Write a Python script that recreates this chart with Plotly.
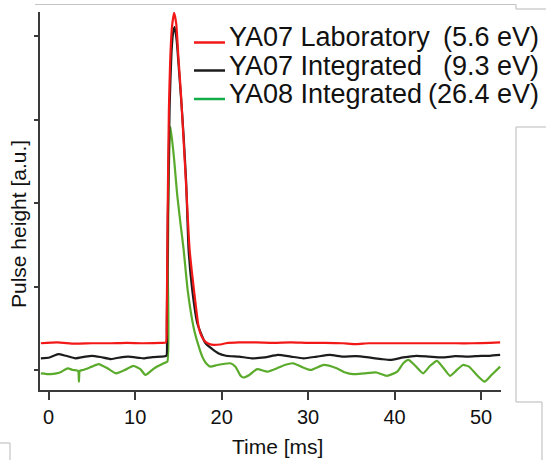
import plotly.graph_objects as go

# ---------------- data ----------------
red_x = [-0.9, 1, 3, 5, 7, 9, 11, 13, 13.55,
         13.65, 13.75, 13.9, 14.05, 14.25, 14.5, 14.75, 15.0, 15.3, 15.55, 15.9, 16.3, 16.8, 17.35, 17.7, 18.1, 18.6, 19.1, 19.8,
         20.5, 22, 24, 26, 28, 30, 32, 34, 35.5, 37, 39, 41, 43, 45, 47, 49, 51, 52.2]
red_y = [0.32, 0.33, 0.315, 0.32, 0.32, 0.325, 0.32, 0.325, 0.33,
         0.6, 1.8, 3.1, 3.7, 4.1, 4.28, 4.15, 3.75, 3.3, 2.85, 2.2, 1.44, 0.96, 0.51, 0.4, 0.34, 0.31, 0.30, 0.305,
         0.32, 0.33, 0.33, 0.325, 0.33, 0.325, 0.325, 0.32, 0.31, 0.32, 0.32, 0.32, 0.32, 0.32, 0.32, 0.32, 0.325, 0.33]

black_x = [-0.9, 0.1, 1.1, 2, 3.1, 4.2, 5, 6, 7.2, 8.5, 9.2, 10.5, 11, 12, 13, 13.6,
           13.66, 13.78, 13.99, 14.2, 14.4, 14.57, 14.8, 15.1, 15.37, 15.6, 15.9, 16.18, 16.6, 17.19, 18.14, 19.6,
           20.5, 22, 23.5, 25, 26.5, 28, 29.5, 31, 32.5, 34, 35.5, 37, 38.5, 39.5, 41, 42.5, 44, 45.5, 47, 48.5, 50, 51, 52.2]
black_y = [0.14, 0.15, 0.19, 0.17, 0.14, 0.16, 0.17, 0.155, 0.13, 0.155, 0.16, 0.145, 0.14, 0.155, 0.16, 0.17,
           0.5, 1.8, 3.17, 3.8, 4.05, 4.11, 3.95, 3.55, 3.17, 2.81, 2.25, 1.44, 0.96, 0.56, 0.32, 0.2,
           0.17, 0.16, 0.14, 0.15, 0.18, 0.16, 0.14, 0.16, 0.18, 0.16, 0.165, 0.15, 0.13, 0.12, 0.15, 0.17, 0.16, 0.15, 0.165, 0.16, 0.17, 0.17, 0.18]

green_x = [-0.9, 0.2, 0.9, 1.5, 2.2, 2.8, 3.4, 3.5, 3.6, 4.0, 5.0, 5.8, 6.8, 7.8, 8.8, 9.8, 10.6, 11.2, 12.2, 13.3, 13.72,
           13.78, 13.9, 14.05, 14.1, 14.51, 14.86, 15.26, 15.61, 16.07, 16.76, 17.3, 17.76, 18.2, 18.7,
           19.5, 21.0, 21.6, 22.2, 22.5, 23.2, 24.1, 25.3, 26.4, 27.3, 28.3, 29.2, 30.3, 31.8, 33.3, 34.3, 35.2, 36.5,
           37.9, 39.1, 40.3, 41.0, 41.6, 42.4, 43.3, 44.1, 44.9, 45.6, 46.4, 47.2, 47.9, 48.6, 49.5, 50.4, 51.2, 52.2]
green_y = [-0.04, -0.05, -0.04, -0.02, 0.02, 0.0, -0.01, -0.14, -0.01, 0.0, 0.04, 0.07, 0.02, -0.04, 0.0, 0.05, 0.01, -0.06, 0.02, 0.08, 0.1,
           1.2, 2.4, 2.88, 2.91, 2.52, 2.10, 1.74, 1.44, 0.96, 0.51, 0.3, 0.16, 0.08, 0.04,
           0.06, 0.08, 0.04, -0.07, -0.09, -0.06, 0.01, -0.02, 0.02, 0.06, 0.08, 0.04, 0.0, 0.06, 0.02, -0.03, -0.05, -0.04,
           -0.03, -0.07, -0.02, 0.08, 0.12, 0.05, -0.04, 0.05, 0.11, 0.03, -0.07, 0.0, 0.06, 0.04, -0.06, -0.14, -0.06, 0.04]

legend_names = ["YA07 Laboratory", "YA07 Integrated", "YA08 Integrated"]
legend_energies = ["(5.6 eV)", "(9.3 eV)", "(26.4 eV)"]
x_ticks = [0, 10, 20, 30, 40, 50]
y_ticks = [0, 1, 2, 3, 4]

# ---------------- layout geometry ----------------
W, H = 546, 460
L, R, T, B = 40, 45, 12, 70
PW, PH = W - L - R, H - T - B


def px(x):
    return (x - L) / PW


def py(y):
    return (H - B - y) / PH


FONT = "Liberation Sans, Arial, sans-serif"

fig = go.Figure()
line_colors = ["#f21818", "#1c1c1c", "#5aab2c"]
legend_colors = ["#f21818", "#1c1c1c", "#12ad48"]
for xs, ys, c in [(red_x, red_y, line_colors[0]),
                  (black_x, black_y, line_colors[1]),
                  (green_x, green_y, line_colors[2])][::-1]:
    fig.add_trace(go.Scatter(x=xs, y=ys, mode="lines",
                             line=dict(color=c, width=2.2, shape="spline", smoothing=0.5),
                             showlegend=False, hoverinfo="skip"))

shapes = []
annotations = []
# manual legend
rows_y = [42.5, 70.5, 99]
for i in range(3):
    shapes.append(dict(type="line", xref="paper", yref="paper",
                       x0=px(194), x1=px(225), y0=py(rows_y[i]), y1=py(rows_y[i]),
                       line=dict(color=legend_colors[i], width=2.5)))
    annotations.append(dict(xref="paper", yref="paper", x=px(227), y=py(rows_y[i] - 5),
                            xanchor="left", yanchor="middle", text=legend_names[i],
                            showarrow=False, font=dict(family=FONT, size=27, color="#111")))
    annotations.append(dict(xref="paper", yref="paper", x=px(541), y=py(rows_y[i] - 5),
                            xanchor="right", yanchor="middle", text=legend_energies[i],
                            showarrow=False, font=dict(family=FONT, size=27, color="#111")))

# axis titles
annotations.append(dict(xref="paper", yref="paper", x=px(277), y=py(446), xanchor="center", yanchor="middle",
                        text="Time [ms]", showarrow=False, font=dict(family=FONT, size=21, color="#111")))
annotations.append(dict(xref="paper", yref="paper", x=px(18.5), y=py(224.5), xanchor="center", yanchor="middle",
                        text="Pulse height [a.u.]", textangle=-90, showarrow=False,
                        font=dict(family=FONT, size=21, color="#111")))

# page border artefacts (light grey)
grey = dict(color="#c4c4c4", width=1.2)
segs = [((35, 4.5), (516, 4.5)), ((516, 4.5), (516, 9)), ((516, 9), (546, 9)),
        ((546, 127), (516, 127)), ((516, 127), (516, 402)), ((516, 402), (542, 402)), ((542, 402), (542, 460)),
        ((0, 443), (10, 443)), ((10, 443), (10, 460))]
for (a, b) in segs:
    shapes.append(dict(type="line", xref="paper", yref="paper", x0=px(a[0]), y0=py(a[1]),
                       x1=px(b[0]), y1=py(b[1]), line=grey))

fig.update_layout(
    width=W, height=H,
    margin=dict(l=L, r=R, t=T, b=B, pad=0),
    paper_bgcolor="white", plot_bgcolor="white",
    showlegend=False,
    shapes=shapes, annotations=annotations,
    xaxis=dict(range=[-1.0, 52.3], tickvals=x_ticks, ticks="outside", ticklen=8, tickwidth=2,
               tickcolor="#3a3a3a", showline=True, linecolor="#3a3a3a", linewidth=2,
               showgrid=False, zeroline=False, tickfont=dict(family=FONT, size=20, color="#111")),
    yaxis=dict(range=[-0.24, 4.29], tickvals=y_ticks, ticks="outside", ticklen=4, tickwidth=2,
               tickcolor="#3a3a3a", showline=True, linecolor="#3a3a3a", linewidth=2,
               showgrid=False, zeroline=False, showticklabels=False),
)

fig.write_html("out.html", config={"displayModeBar": False},
               post_script="document.body.style.margin='0';")
